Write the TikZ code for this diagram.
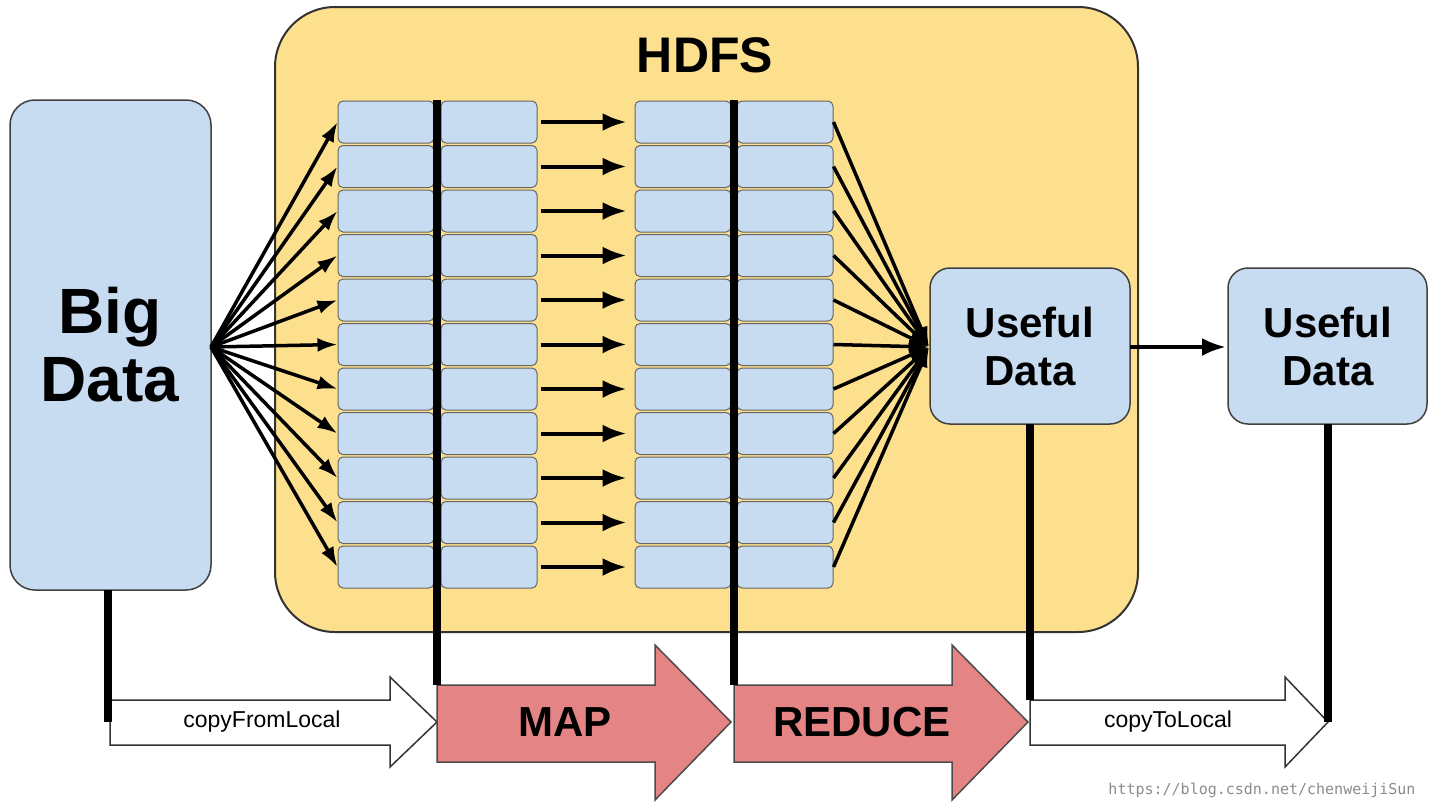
\documentclass[tikz,border=0pt]{standalone}
\usepackage{fontspec}
\setmainfont{Liberation Sans}
\setmonofont{DejaVu Sans Mono}
\begin{document}
\begin{tikzpicture}[x=1pt,y=-1pt,
  bluebox/.style={draw=black!75,line width=1.5pt,fill=blue1,rounded corners=#1},
  cell/.style={draw=black!60,line width=1pt,fill=blue1,rounded corners=5pt,minimum width=96pt,minimum height=42pt,inner sep=0pt},
  thick line/.style={line width=8pt},
  arr/.style={line width=4pt,-{Latex[length=24pt,width=18pt]}},
  fan/.style={line width=3.5pt,-{Latex[length=20pt,width=14pt]}},
  big/.style={font=\fontsize{64}{64}\selectfont\bfseries,align=center},
  mid/.style={font=\fontsize{42}{46}\selectfont\bfseries,align=center},
  small/.style={font=\fontsize{23}{26}\selectfont}]
\usetikzlibrary{arrows.meta}
\definecolor{blue1}{HTML}{C7DCF1}
\definecolor{yel}{HTML}{FCE08D}
\definecolor{red1}{HTML}{E58484}
\useasboundingbox (0,0) rectangle (1438,807);
\fill[white] (0,0) rectangle (1438,807);
% HDFS
\draw[fill=yel,draw=black!80,line width=2pt,rounded corners=60pt] (275,7) rectangle (1138,632);
\node[font=\fontsize{50}{54}\selectfont\bfseries] (hdfs) at (705,55) {HDFS};
% Big data
\draw[bluebox=25pt] (10,100) rectangle (211,590);
\node[big] (big) at (110,345) {Big\\[4pt]Data};
\coordinate (bigR) at (211,347);
% Useful data
\draw[bluebox=20pt] (930,268) rectangle (1130,424);
\node[mid] (u1) at (1030,346) {Useful\\[2pt]Data};
\draw[bluebox=20pt] (1228,268) rectangle (1427,424);
\node[mid] (u2) at (1328,346) {Useful\\[2pt]Data};
\coordinate (u1L) at (929,347);
% cells
\foreach \i in {0,...,10}{
  \pgfmathsetmacro{\yy}{122+44.5*\i}
  \node[cell] (a\i) at (386,\yy) {};
  \node[cell] (b\i) at (489,\yy) {};
  \node[cell] (c\i) at (683,\yy) {};
  \node[cell] (d\i) at (785,\yy) {};
  \draw[fan] (bigR) -- (a\i.west);
  \draw[arr] (b\i.east) ++(3,0) -- ([xshift=-8pt]c\i.west);
  \draw[fan] (d\i.east) -- (u1L);
}
\draw[arr] (1130,347) -- (1226,347);
% bottom arrows
\draw[fill=white,draw=black!80,line width=1.5pt] (110,700) -- (390,700) -- (390,677) -- (437,722) -- (390,767) -- (390,745) -- (110,745) -- cycle;
\node[small] (cfl) at (262,722) {copyFromLocal};
\draw[fill=red1,draw=black!70,line width=1.5pt] (437,685) -- (655,685) -- (655,645) -- (731,722) -- (655,800) -- (655,762) -- (437,762) -- cycle;
\node[mid] (map) at (565,722) {MAP};
\draw[fill=red1,draw=black!70,line width=1.5pt] (734,685) -- (952,685) -- (952,645) -- (1028,722) -- (952,800) -- (952,762) -- (734,762) -- cycle;
\node[mid] (red) at (862,722) {REDUCE};
\draw[fill=white,draw=black!80,line width=1.5pt] (1030,700) -- (1285,700) -- (1285,677) -- (1328,722) -- (1285,767) -- (1285,745) -- (1030,745) -- cycle;
\node[small] (ctl) at (1168,722) {copyToLocal};
% vertical thick lines
\draw[thick line] (108,590) -- (108,722);
\draw[thick line] (437,100) -- (437,685);
\draw[thick line] (734,100) -- (734,685);
\draw[thick line] (1030,424) -- (1030,700);
\draw[thick line] (1328,424) -- (1328,722);
\node[font=\ttfamily\fontsize{15}{16}\selectfont,text=black!45] (wm) at (1262,790) {https://blog.csdn.net/chenweijiSun};
\end{tikzpicture}
\end{document}
